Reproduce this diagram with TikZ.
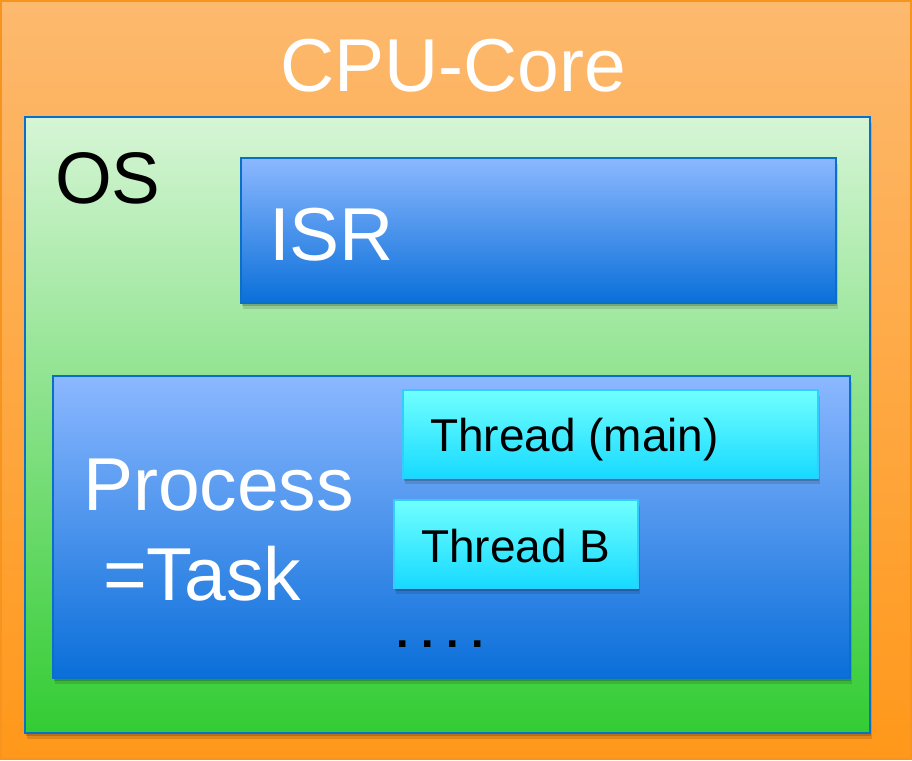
\documentclass[tikz,border=0pt]{standalone}
\usepackage{fontspec}
\setmainfont{Liberation Sans}
\usetikzlibrary{shadows}
\definecolor{CoreTop}{HTML}{FDB96E}
\definecolor{CoreBottom}{HTML}{FF981A}
\definecolor{CoreLine}{HTML}{F7941D}
\definecolor{OsTop}{HTML}{D6F5D6}
\definecolor{OsBottom}{HTML}{33CC33}
\definecolor{BoxLine}{HTML}{0A6FC8}
\definecolor{BlueTop}{HTML}{8CB8FF}
\definecolor{BlueBottom}{HTML}{0A6FD9}
\definecolor{CyanTop}{HTML}{70FFFF}
\definecolor{CyanBottom}{HTML}{17DAFF}
\definecolor{CyanLine}{HTML}{33CCFF}
\begin{document}
\begin{tikzpicture}[x=1pt,y=-1pt,every node/.style={inner sep=0pt,outer sep=0pt},
box/.style={rectangle,anchor=north west,line width=1.6pt},
shade/.style={drop shadow={shadow xshift=1pt,shadow yshift=-3pt,opacity=.18,fill=black},
  drop shadow={shadow xshift=2pt,shadow yshift=-6pt,opacity=.12,fill=black}},
corebox/.style={box,draw=CoreLine,top color=CoreTop,bottom color=CoreBottom},
osbox/.style={box,draw=BoxLine,top color=OsTop,bottom color=OsBottom,shade},
bluebox/.style={box,draw=BoxLine,top color=BlueTop,bottom color=BlueBottom,shade},
threadbox/.style={box,draw=CyanLine,line width=1.2pt,top color=CyanTop,bottom color=CyanBottom,shade},
bigtext/.style={anchor=base west,font=\fontsize{75}{80}\selectfont},
smalltext/.style={anchor=base west,font=\fontsize{46}{50}\selectfont}]
\useasboundingbox (0,0) rectangle (912,760);
\node[corebox,minimum width=910pt,minimum height=758pt] (core) at (1,1) {};
\node[osbox,minimum width=845pt,minimum height=616pt] (os) at (25,117) {};
\node[bluebox,minimum width=595pt,minimum height=145pt] (isr) at (241,158) {};
\node[bluebox,minimum width=797pt,minimum height=302pt] (proc) at (53,376) {};
\node[threadbox,minimum width=415pt,minimum height=88pt] (tmain) at (403,390) {};
\node[threadbox,minimum width=244pt,minimum height=88pt] (tb) at (394,500) {};
% labels
\node[bigtext,text=white] (corelbl) at (280,92) {CPU-Core};
\node[bigtext,font=\fontsize{73}{80}\selectfont] (oslbl) at (55,203) {OS};
\node[bigtext,text=white] (isrlbl) at (269,260) {ISR};
\node[bigtext,text=white] (proclbl) at (83,510) {Process};
\node[bigtext,text=white] (tasklbl) at (103,600) {=Task};
\node[smalltext] (tmainlbl) at (430,451) {Thread (main)};
\node[smalltext] (tblbl) at (421,562) {Thread B};
\node[smalltext,font=\fontsize{45}{50}\bfseries\addfontfeature{LetterSpace=28}] (dots) at (396,647) {....};
\end{tikzpicture}
\end{document}
